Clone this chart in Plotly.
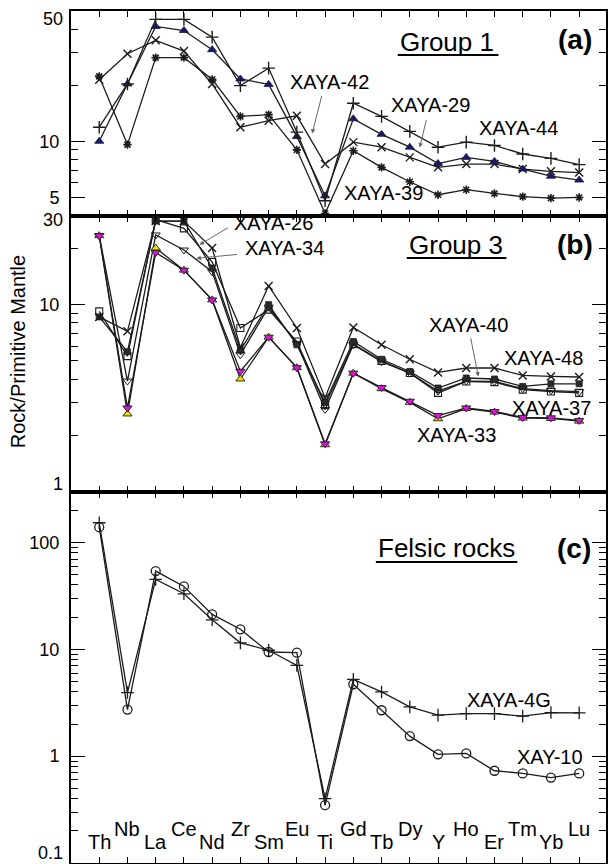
import math
import plotly.graph_objects as go

# ---------------------------------------------------------------- data
ELEMENTS = ["Th", "Nb", "La", "Ce", "Nd", "Zr", "Sm", "Eu", "Ti",
            "Gd", "Tb", "Dy", "Y", "Ho", "Er", "Tm", "Yb", "Lu"]

# (a) Group 1
XAYA_44 = [11.9, 20.3, 45.1, 45.1, 36.2, 19.9, 24.7, 11.2, 4.8,
           16.0, 13.6, 11.3, 9.3, 9.9, 9.5, 8.55, 8.1, 7.5]
XAYA_29 = [10.0, 20.3, 41.3, 39.3, 31.0, 21.6, 20.2, 10.6, 5.1,
           13.2, 10.9, 9.3, 7.6, 8.2, 7.8, 7.1, 6.5, 6.2]
XAYA_42 = [21.4, 29.5, 34.8, 30.5, 20.3, 11.9, 12.9, 13.7, 7.55,
           9.9, 9.3, 8.2, 7.25, 7.55, 7.55, 7.1, 6.9, 6.8]
XAYA_39 = [22.3, 9.6, 28.1, 28.1, 21.5, 13.6, 13.9, 9.0, 4.1,
           8.9, 7.25, 6.07, 5.17, 5.5, 5.25, 5.05, 4.96, 5.0]

# (b) Group 3
XAYA_48 = [8.6, 7.2, 28.0, 28.0, 20.1, 5.9, 12.6, 7.5, 3.18,
           7.55, 6.1, 5.1, 4.34, 4.58, 4.58, 4.18, 4.13, 4.10]
XAYA_40 = [8.6, 5.6, 28.0, 28.0, 15.7, 5.7, 10.0, 6.1, 3.0,
           6.35, 5.1, 4.39, 3.58, 4.05, 4.0, 3.65, 3.77, 3.77]
XAYA_26 = [9.2, 5.3, 28.5, 25.6, 16.9, 7.5, 9.4, 6.35, 2.9,
           6.15, 5.0, 4.31, 3.37, 3.88, 3.85, 3.51, 3.43, 3.37]
XAYA_34 = [23.4, 3.9, 23.6, 19.6, 15.0, 5.4, 9.7, 6.2, 2.75,
           6.1, 4.95, 4.3, 3.45, 3.9, 3.88, 3.55, 3.47, 3.42]
XAYA_33 = [23.4, 2.6, 20.1, 15.3, 10.6, 4.0, 6.7, 4.6, 1.78,
           4.3, 3.55, 3.0, 2.45, 2.78, 2.66, 2.47, 2.46, 2.38]
XAYA_37 = [23.4, 2.8, 19.0, 15.3, 10.6, 4.4, 6.7, 4.6, 1.80,
           4.3, 3.6, 3.04, 2.55, 2.80, 2.68, 2.49, 2.48, 2.40]

# (c) Felsic rocks
XAYA_4G = [153, 3.94, 45.1, 33.1, 18.9, 11.5, 9.8, 7.08, 0.40,
           5.24, 3.99, 2.89, 2.42, 2.50, 2.50, 2.37, 2.56, 2.54]
XAY_10 = [139, 2.73, 54, 38.8, 21.2, 15.4, 9.44, 9.3, 0.348,
          4.71, 2.69, 1.54, 1.04, 1.06, 0.73, 0.69, 0.63, 0.69]

# axis ranges and ticks
A_RANGE = [4, 50]
B_RANGE = [1, 30]
C_RANGE = [0.1, 300]
A_TICKS = [5, 10, 50]
B_TICKS = [1, 10, 30]
C_TICKS = [0.1, 1, 10, 100]
A_MINOR = [4, 6, 7, 8, 9, 20, 30, 40]
B_MINOR = [2, 3, 4, 5, 6, 7, 8, 9, 20]
C_MINOR = ([0.2, 0.3, 0.4, 0.5, 0.6, 0.7, 0.8, 0.9] +
           [2, 3, 4, 5, 6, 7, 8, 9] +
           [20, 30, 40, 50, 60, 70, 80, 90] + [200, 300])
# tick labels at the outer edge of a panel, nudged inwards (axis, value, yshift px)
EDGE_LABELS = [("y", 50, -8), ("y2", 30, -4), ("y2", 1, 8), ("y3", 0.1, 10)]

FONT = "Liberation Sans, Arial, sans-serif"
TICK_SIZE = 18
W, H = 608, 864
ML, MR, MT, MB = 71, 0, 11, 1
PW, PH = W - ML - MR, H - MT - MB

LINE = dict(color="#1c1c1c", width=1.3)


def px(x):
    return (x - ML) / PW


def py(y):
    return (H - MB - y) / PH


# panel domains (paper fraction, bottom-up)
C_DOM = [0.0, py(491.5)]
B_DOM = [py(491.5), py(215.5)]
A_DOM = [py(215.5), 1.0]

fig = go.Figure()


def add(ys, name, xa, ya, symbol, size=8, fill="#1c1c1c", lw=1.3, lc="#1c1c1c"):
    fig.add_trace(go.Scatter(
        x=ELEMENTS, y=ys, name=name, mode="lines+markers",
        xaxis=xa, yaxis=ya, line=LINE,
        marker=dict(symbol=symbol, size=size, color=fill,
                    line=dict(width=lw, color=lc)),
        showlegend=False,
    ))


# (a)
add(XAYA_39, "XAYA-39", "x", "y", "asterisk-open", 7, lw=1.6)
add(XAYA_42, "XAYA-42", "x", "y", "x-thin-open", 8, lw=1.4)
add(XAYA_29, "XAYA-29", "x", "y", "triangle-up", 8, fill="#17177a", lw=0.8)
add(XAYA_44, "XAYA-44", "x", "y", "cross-thin-open", 9, lw=1.4)

# (b)
add(XAYA_34, "XAYA-34", "x2", "y2", "triangle-down-open", 8, lw=1.0)
add(XAYA_26, "XAYA-26", "x2", "y2", "square-open", 7, lw=1.1)
add(XAYA_40, "XAYA-40", "x2", "y2", "square", 6, fill="#2a2a2a", lw=0.8)
add(XAYA_48, "XAYA-48", "x2", "y2", "x-thin-open", 8, lw=1.4)
add(XAYA_33, "XAYA-33", "x2", "y2", "triangle-up", 8, fill="#e8e000", lw=0.9)
add(XAYA_37, "XAYA-37", "x2", "y2", "triangle-down", 8, fill="#e010e0", lw=0.9)

# (c)
add(XAYA_4G, "XAYA-4G", "x3", "y3", "cross-thin-open", 9, lw=1.3)
add(XAY_10, "XAY-10", "x3", "y3", "circle-open", 9, lw=1.3)

frame = dict(showline=True, linewidth=2, linecolor="black", mirror="allticks",
             showgrid=False, zeroline=False)


def xaxis(anchor):
    return dict(frame, anchor=anchor, domain=[0, 1], type="category",
                categoryorder="array", categoryarray=ELEMENTS,
                range=[-1, 17.95], ticks="inside", ticklen=6, tickwidth=1.4,
                tickcolor="black", showticklabels=False)


def yaxis(name, anchor, dom, rng, ticks, minor):
    edge = {v for ax, v, _ in EDGE_LABELS if ax == name}
    return dict(frame, anchor=anchor, domain=dom, type="log",
                range=[math.log10(rng[0]), math.log10(rng[1])],
                tickmode="array", tickvals=ticks,
                ticktext=["" if t in edge else f"{t:g}" for t in ticks],
                ticks="inside", ticklen=14, tickwidth=1.4, tickcolor="black",
                ticklabelstandoff=6,
                tickfont=dict(family=FONT, size=TICK_SIZE, color="black"),
                minor=dict(tickmode="array", tickvals=minor, ticks="inside",
                           ticklen=7, tickwidth=1.1, tickcolor="black",
                           showgrid=False))


fig.update_layout(
    width=W, height=H,
    margin=dict(l=ML, r=MR, t=MT, b=MB, pad=0),
    paper_bgcolor="white", plot_bgcolor="white",
    font=dict(family=FONT, size=20, color="black"),
    xaxis=xaxis("y"), xaxis2=xaxis("y2"), xaxis3=xaxis("y3"),
    yaxis=yaxis("y", "x", A_DOM, A_RANGE, A_TICKS, A_MINOR),
    yaxis2=yaxis("y2", "x2", B_DOM, B_RANGE, B_TICKS, B_MINOR),
    yaxis3=yaxis("y3", "x3", C_DOM, C_RANGE, C_TICKS, C_MINOR),
)

ann = []

# edge tick labels
for ax, v, shift in EDGE_LABELS:
    ann.append(dict(text=f"{v:g}", xref="paper", x=px(ML - 6), xanchor="right",
                    yref=ax, y=math.log10(v), yanchor="middle", yshift=shift,
                    showarrow=False, font=dict(size=TICK_SIZE)))

# element names, staggered along the bottom of panel (c)
for i, el in enumerate(ELEMENTS):
    ann.append(dict(text=el, xref="x3", x=i, yref="paper",
                    y=py(841.5 if i % 2 == 0 else 828.5),
                    xanchor="center", yanchor="middle", showarrow=False,
                    font=dict(size=20)))

# titles and panel letters
for text, x, y in [("Group 1", 448, 42), ("Group 3", 457, 245), ("Felsic rocks", 448, 548)]:
    ann.append(dict(text=text, xref="paper", yref="paper", x=px(x), y=py(y),
                    xanchor="center", yanchor="middle", showarrow=False,
                    font=dict(size=26)))
for text, x, y in [("(a)", 577, 40), ("(b)", 577, 245), ("(c)", 576, 548)]:
    ann.append(dict(text=f"<b>{text}</b>", xref="paper", yref="paper", x=px(x), y=py(y),
                    xanchor="center", yanchor="middle", showarrow=False,
                    font=dict(size=28)))

# sample labels
for text, x, y in [("XAYA-42", 330, 82), ("XAYA-29", 432, 105), ("XAYA-44", 520, 128),
                   ("XAYA-39", 385, 193), ("XAYA-26", 274, 223), ("XAYA-34", 285, 248),
                   ("XAYA-40", 470, 325), ("XAYA-48", 545, 358), ("XAYA-37", 553, 408),
                   ("XAYA-33", 458, 435), ("XAYA-4G", 511, 700), ("XAY-10", 552, 757)]:
    ann.append(dict(text=text, xref="paper", yref="paper", x=px(x), y=py(y),
                    xanchor="center", yanchor="middle", showarrow=False,
                    font=dict(size=20)))

# pointer arrows (tip on the curve, tail offset in pixels)
for xr, yr, xi, yv, ax, ay in [("x", "y", 7.54, 11.0, 10, -39),
                               ("x", "y", 11.35, 9.25, 7, -29),
                               ("x2", "y2", 3.55, 20.9, 30, -18),
                               ("x2", "y2", 3.44, 17.7, 42, -4),
                               ("x2", "y2", 13.43, 4.12, -8, -40)]:
    ann.append(dict(text="", xref=xr, yref=yr, x=xi, y=math.log10(yv),
                    ax=ax, ay=ay, showarrow=True, arrowhead=2, arrowsize=0.9,
                    arrowwidth=1, arrowcolor="#666666"))

# y axis title
ann.append(dict(text="Rock/Primitive Mantle", xref="paper", yref="paper",
                x=px(18), y=py(352), textangle=-90, xanchor="center",
                yanchor="middle", showarrow=False, font=dict(size=20)))

fig.update_layout(annotations=ann)

# underlines of the panel titles
for x0, x1, y in [(399, 500, 55), (408, 508, 258), (377, 519, 562)]:
    fig.add_shape(type="line", xref="paper", yref="paper",
                  x0=px(x0), x1=px(x1), y0=py(y), y1=py(y),
                  line=dict(color="black", width=2))

fig.write_html("out.html")
